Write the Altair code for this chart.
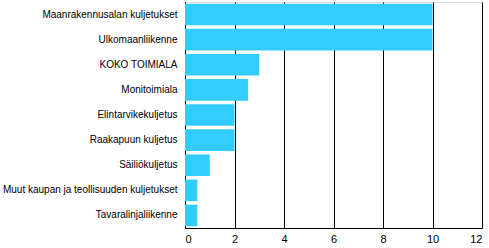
import altair as alt
import pandas as pd

categories = [
    "Maanrakennusalan kuljetukset",
    "Ulkomaanliikenne",
    "KOKO TOIMIALA",
    "Monitoimiala",
    "Elintarvikekuljetus",
    "Raakapuun kuljetus",
    "Säiliökuljetus",
    "Muut kaupan ja teollisuuden kuljetukset",
    "Tavaralinjaliikenne",
]
values = [10, 10, 3, 2.55, 2, 2, 1, 0.5, 0.5]
x_ticks = [0, 2, 4, 6, 8, 10, 12]

df = pd.DataFrame({"cat": categories, "val": values})

FONT = "Liberation Sans"

chart = (
    alt.Chart(df)
    .mark_bar(color="#33CCFF")
    .encode(
        x=alt.X(
            "val:Q",
            scale=alt.Scale(domain=[0, 12], nice=False),
            axis=alt.Axis(
                values=x_ticks,
                title=None,
                grid=True,
                gridColor="black",
                gridWidth=1,
                gridOpacity=1,
                domainColor="black",
                ticks=False,
                labelPadding=5,
                labelFont=FONT,
                labelFontSize=11,
                labelColor="black",
            ),
        ),
        y=alt.Y(
            "cat:N",
            sort=categories,
            scale=alt.Scale(paddingInner=0.14, paddingOuter=0.07),
            axis=alt.Axis(
                title=None,
                domainColor="black",
                ticks=False,
                labelPadding=8,
                labelFont=FONT,
                labelFontSize=10,
                labelColor="black",
                labelLimit=300,
            ),
        ),
    )
    .properties(
        width=297,
        height=226,
        autosize=alt.AutoSizeParams(type="none"),
        padding={"left": 185, "top": 2, "right": 7, "bottom": 20},
    )
    .configure_view(stroke="black", strokeWidth=1)
    .configure(background="white")
)

chart.save("out.html", embed_options={"renderer": "svg", "actions": False})
